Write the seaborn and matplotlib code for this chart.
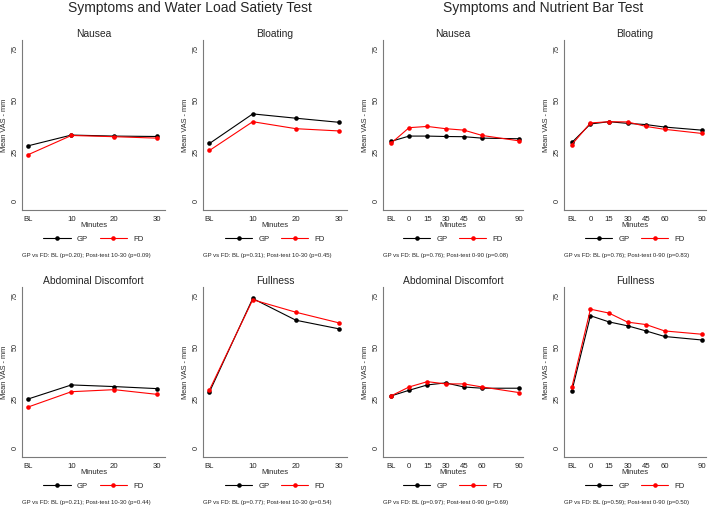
import numpy as np
import pandas as pd
import matplotlib
matplotlib.use("Agg")
import matplotlib.pyplot as plt
import matplotlib.transforms as mtransforms
import seaborn as sns
from matplotlib.lines import Line2D

# ---------------- data ----------------
water_labels = ["BL", "10", "20", "30"]
water_pos = [0, 10, 20, 30]
bar_labels = ["BL", "0", "15", "30", "45", "60", "90"]
bar_pos = [-15, 0, 15, 30, 45, 60, 90]
y_ticks = [0, 25, 50, 75]

water_nausea_gp = [27.1, 32.3, 31.8, 31.6]
water_nausea_fd = [22.8, 32.1, 31.5, 30.8]
water_bloating_gp = [28.2, 42.6, 40.5, 38.5]
water_bloating_fd = [24.8, 38.8, 35.4, 34.3]
water_abd_gp = [24.1, 30.9, 30.1, 29.1]
water_abd_fd = [20.2, 27.6, 28.6, 26.3]
water_full_gp = [27.5, 73.0, 62.4, 58.2]
water_full_fd = [28.5, 72.4, 66.3, 61.1]

bar_nausea_gp = [29.2, 31.8, 31.8, 31.6, 31.5, 30.8, 30.5]
bar_nausea_fd = [28.2, 35.9, 36.5, 35.4, 34.7, 32.1, 29.5]
bar_bloating_gp = [28.7, 37.7, 38.8, 38.0, 37.4, 36.2, 34.7]
bar_bloating_fd = [27.7, 38.2, 38.8, 38.7, 36.5, 35.1, 33.1]
bar_abd_gp = [25.5, 28.3, 30.9, 31.9, 29.9, 29.3, 29.3]
bar_abd_fd = [25.5, 29.9, 32.5, 31.4, 31.4, 29.9, 27.2]
bar_full_gp = [28.0, 64.6, 61.6, 59.7, 57.2, 54.5, 52.8]
bar_full_fd = [29.9, 67.8, 65.9, 61.5, 60.3, 57.2, 55.6]

notes = {
    "wn": "GP vs FD: BL (p=0.20); Post-test 10-30 (p=0.09)",
    "wb": "GP vs FD: BL (p=0.31); Post-test 10-30 (p=0.45)",
    "wa": "GP vs FD: BL (p=0.21); Post-test 10-30 (p=0.44)",
    "wf": "GP vs FD: BL (p=0.77); Post-test 10-30 (p=0.54)",
    "bn": "GP vs FD: BL (p=0.76); Post-test 0-90 (p=0.08)",
    "bb": "GP vs FD: BL (p=0.76); Post-test 0-90 (p=0.83)",
    "ba": "GP vs FD: BL (p=0.97); Post-test 0-90 (p=0.69)",
    "bf": "GP vs FD: BL (p=0.59); Post-test 0-90 (p=0.50)",
}

groups = ["GP", "FD"]
palette = {"GP": "black", "FD": "red"}

# ---------------- style ----------------
sns.set_style("white")
plt.rcParams["font.family"] = ["Liberation Sans", "DejaVu Sans"]

W, H = 709, 505
fig = plt.figure(figsize=(W / 100, H / 100), dpi=100)


def rect(l, t, w, h):
    return [l / W, 1 - (t + h) / H, w / W, h / H]


AX_GRAY = "#7a7a7a"
MS = 3.3
LW = 0.8

panels = [
    # key, title, left, top, width, labels, pos, gp, fd, xlim
    ("wn", "Nausea", 22, 40, 143, water_labels, water_pos, water_nausea_gp, water_nausea_fd, (-1.5, 31.8)),
    ("wb", "Bloating", 203, 40, 144, water_labels, water_pos, water_bloating_gp, water_bloating_fd, (-1.5, 31.8)),
    ("bn", "Nausea", 383, 40, 140, bar_labels, bar_pos, bar_nausea_gp, bar_nausea_fd, (-21.4, 93.5)),
    ("bb", "Bloating", 564, 40, 142, bar_labels, bar_pos, bar_bloating_gp, bar_bloating_fd, (-21.4, 93.5)),
    ("wa", "Abdominal Discomfort", 22, 287, 143, water_labels, water_pos, water_abd_gp, water_abd_fd, (-1.5, 31.8)),
    ("wf", "Fullness", 203, 287, 144, water_labels, water_pos, water_full_gp, water_full_fd, (-1.5, 31.8)),
    ("ba", "Abdominal Discomfort", 383, 287, 140, bar_labels, bar_pos, bar_abd_gp, bar_abd_fd, (-21.4, 93.5)),
    ("bf", "Fullness", 564, 287, 142, bar_labels, bar_pos, bar_full_gp, bar_full_fd, (-21.4, 93.5)),
]

AX_H = 170
for key, title, l, t, w, labels, pos, gp, fd, xlim in panels:
    ax = fig.add_axes(rect(l, t, w, AX_H))
    df = pd.DataFrame({
        "Minutes": list(pos) * 2,
        "value": list(gp) + list(fd),
        "group": ["GP"] * len(pos) + ["FD"] * len(pos),
    })
    sns.lineplot(data=df, x="Minutes", y="value", hue="group", hue_order=groups,
                 palette=palette, marker="o", markersize=MS, markeredgewidth=0,
                 linewidth=LW, legend=False, ax=ax)
    ax.set_xlim(*xlim)
    ax.set_ylim(-4.2, 78.6)
    ax.set_xticks(pos)
    ax.set_xticklabels(labels, fontsize=5.6)
    ax.tick_params(axis="x", direction="out", length=2.5, width=0.6, color=AX_GRAY, pad=1.5)
    ax.tick_params(axis="y", direction="out", length=1.7, width=0.6, color=AX_GRAY, pad=0.6)
    ax.set_yticks(y_ticks)
    ax.set_yticklabels([str(v) for v in y_ticks], fontsize=5.2)
    for lab in ax.get_yticklabels():
        lab.set_rotation(90)
    ax.set_xlabel("Minutes", fontsize=5.6, labelpad=-0.5)
    ax.set_ylabel("")
    trans = mtransforms.blended_transform_factory(fig.transFigure, ax.transAxes)
    ax.text((l - 17.5) / W, 0.5, "Mean VAS - mm", transform=trans, rotation=90,
            ha="center", va="center", fontsize=5.3)
    ax.set_title(title, fontsize=7.4, pad=2.5)
    for s in ["top", "right"]:
        ax.spines[s].set_visible(False)
    for s in ["left", "bottom"]:
        ax.spines[s].set_color(AX_GRAY)
        ax.spines[s].set_linewidth(0.8)
    ax.grid(False)

    handles = [Line2D([], [], color=palette[g], marker="o", markersize=MS,
                      markeredgewidth=0, linewidth=LW) for g in groups]
    ax.legend(handles, groups, loc="center", bbox_to_anchor=(0.5, -0.172),
              ncol=2, frameon=False, fontsize=5.6, handlelength=3.5,
              columnspacing=1.5, handletextpad=0.8)
    ax.text(0.0, -0.27, notes[key], transform=ax.transAxes, fontsize=4.3,
            ha="left", va="center")

fig.text(190 / W, 1 - 8 / H, "Symptoms and Water Load Satiety Test",
         ha="center", va="center", fontsize=10)
fig.text(543 / W, 1 - 8 / H, "Symptoms and Nutrient Bar Test",
         ha="center", va="center", fontsize=10)

fig.savefig("out.png", dpi=100)
